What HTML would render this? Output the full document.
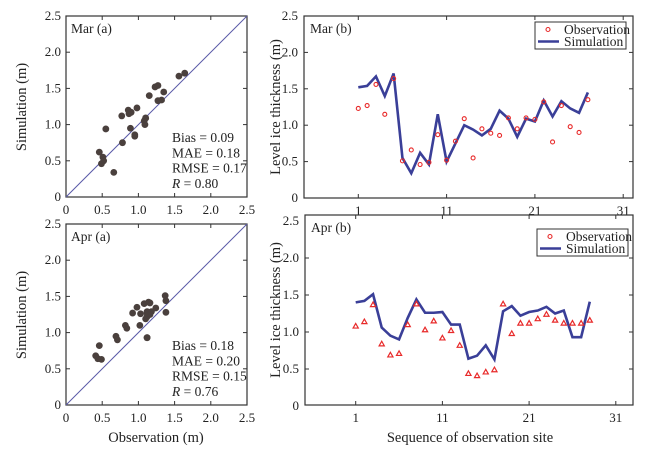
<!DOCTYPE html>
<html><head><meta charset="utf-8"><style>
html,body{margin:0;padding:0;background:#fff;}
svg{display:block;font-family:"Liberation Serif",serif;}
</style></head><body>
<svg id="chart" width="672" height="450" viewBox="0 0 672 450" xmlns="http://www.w3.org/2000/svg"></svg>
<script>
const marObs=[1.23,1.27,1.56,1.15,1.64,0.51,0.66,0.46,0.49,0.87,0.52,0.78,1.09,0.55,0.95,0.89,0.86,1.10,0.95,1.10,1.08,1.32,0.77,1.27,0.98,0.90,1.35];
const marSim=[1.52,1.54,1.67,1.40,1.71,0.55,0.34,0.62,0.46,1.15,0.50,0.75,1.00,0.94,0.86,0.95,1.20,1.09,0.84,1.09,1.05,1.34,1.12,1.33,1.23,1.17,1.45];
const aprObs=[1.08,1.14,1.37,0.84,0.69,0.71,1.10,1.38,1.03,1.15,0.92,1.02,0.82,0.44,0.41,0.46,0.49,1.38,0.98,1.12,1.12,1.18,1.24,1.16,1.12,1.12,1.12,1.16];
const aprSim=[1.40,1.42,1.51,1.06,0.95,0.90,1.19,1.44,1.26,1.26,1.27,1.10,1.10,0.64,0.68,0.82,0.63,1.28,1.35,1.22,1.27,1.29,1.34,1.25,1.29,0.93,0.93,1.41];
const scatterTicks=["0","0.5","1.0","1.5","2.0","2.5"];
const siteTicks=[1,11,21,31];
const marStats=["Bias = 0.09","MAE = 0.18","RMSE = 0.17","R = 0.80"];
const aprStats=["Bias = 0.18","MAE = 0.20","RMSE = 0.15","R = 0.76"];

const NS="http://www.w3.org/2000/svg";
const svg=document.getElementById('chart');
function mk(tag,attrs,parent){const e=document.createElementNS(NS,tag);for(const k in attrs)e.setAttribute(k,attrs[k]);(parent||svg).appendChild(e);return e;}
function txt(s,x,y,attrs,parent){const e=mk('text',Object.assign({x:x,y:y,'font-size':13,fill:'#222'},attrs||{}),parent);e.textContent=s;return e;}

function scatterPanel(name,box,obs,sim,stats,lbl){
  const g=mk('g',{});
  
  
  const sx=v=>box.x0+v*(box.x1-box.x0)/2.5;
  const sy=v=>box.y1-v*(box.y1-box.y0)/2.5;
  const f=mk('rect',{x:box.x0,y:box.y0,width:box.x1-box.x0,height:box.y1-box.y0,fill:'none',stroke:'#333','stroke-width':1.2},g);
  
  const d=mk('line',{x1:sx(0),y1:sy(0),x2:sx(2.5),y2:sy(2.5),stroke:'#5a5aa8','stroke-width':1},g);
  
  scatterTicks.forEach((t,i)=>{const v=i*0.5;
    if(i>0&&i<5){mk('line',{x1:sx(v),y1:box.y1,x2:sx(v),y2:box.y1-4,stroke:'#333'},g);mk('line',{x1:sx(v),y1:box.y0,x2:sx(v),y2:box.y0+4,stroke:'#333'},g);
      mk('line',{x1:box.x0,y1:sy(v),x2:box.x0+4,y2:sy(v),stroke:'#333'},g);mk('line',{x1:box.x1,y1:sy(v),x2:box.x1-4,y2:sy(v),stroke:'#333'},g);}
    const xl=txt(t,sx(v),box.y1+17,{'text-anchor':'middle'},g);
    const yl=txt(t,box.x0-5,sy(v)+4,{'text-anchor':'end'},g);
  });
  obs.forEach((o,i)=>{const c=mk('circle',{cx:sx(o),cy:sy(sim[i]),r:3.4,fill:'#4a403d'},g);
    });
  const l=txt(lbl,box.x0+5,box.y0+17,{'font-size':13.5},g);
  stats.forEach((s,i)=>{let e;const y=box.y1-55+i*15.3;
    if(s.startsWith('R ')){e=txt('',box.x0+106,y,{'font-size':13.5},g);const a=mk('tspan',{'font-style':'italic'},e);a.textContent='R';const b=mk('tspan',{},e);b.textContent=s.slice(1);}
    else e=txt(s,box.x0+106,y,{'font-size':13.5},g);
    });
}

function seriesPanel(name,box,obs,sim,lbl,tri,sx0,sstep,leg){
  const g=mk('g',{});
  
  
  const sx=s=>sx0+(s-1)*sstep;
  const sy=v=>box.zero-v*box.unit;
  const f=mk('rect',{x:box.x0,y:box.y0,width:box.x1-box.x0,height:box.y1-box.y0,fill:'none',stroke:'#333','stroke-width':1.2},g);
  
  scatterTicks.forEach((t,i)=>{const v=i*0.5;
    if(i>0&&i<5){mk('line',{x1:box.x0,y1:sy(v),x2:box.x0+4,y2:sy(v),stroke:'#333'},g);mk('line',{x1:box.x1,y1:sy(v),x2:box.x1-4,y2:sy(v),stroke:'#333'},g);}
    const yl=txt(t,box.x0-6,sy(v)+4,{'text-anchor':'end'},g);});
  siteTicks.forEach(s=>{mk('line',{x1:sx(s),y1:box.y1,x2:sx(s),y2:box.y1-4,stroke:'#333'},g);mk('line',{x1:sx(s),y1:box.y0,x2:sx(s),y2:box.y0+4,stroke:'#333'},g);
    const xl=txt(String(s),sx(s),box.y1+17,{'text-anchor':'middle'},g);});
  const p=mk('polyline',{points:sim.map((v,i)=>sx(i+1)+','+sy(v)).join(' '),fill:'none',stroke:'#3a3f98','stroke-width':2.6,'stroke-linejoin':'miter'},g);
  
  obs.forEach((v,i)=>{const x=sx(i+1),y=sy(v);let m;
    if(tri)m=mk('polygon',{points:`${x},${y-2.6} ${x-2.6},${y+2} ${x+2.6},${y+2}`,fill:'none',stroke:'#e82a2a','stroke-width':1.2},g);
    else m=mk('circle',{cx:x,cy:y,r:2,fill:'none',stroke:'#e82a2a','stroke-width':1.1},g);
    });
  const l=txt(lbl,box.x0+6,box.y0+17,{'font-size':13.5},g);
  const lg=mk('g',{},g);
  mk('rect',{x:leg.x,y:leg.y,width:91,height:27,fill:'#fff',stroke:'#333','stroke-width':1},lg);
  mk('circle',{cx:leg.x+13,cy:leg.y+7.5,r:2,fill:'none',stroke:'#e82a2a','stroke-width':1.1},lg);
  const t1=txt('Observation',leg.x+29,leg.y+12,{'font-size':13.5},lg);
  mk('line',{x1:leg.x+3,y1:leg.y+19.5,x2:leg.x+24,y2:leg.y+19.5,stroke:'#3a3f98','stroke-width':2.6},lg);
  const t2=txt('Simulation',leg.x+29,leg.y+24,{'font-size':13.5},lg);
}

scatterPanel('mar-scatter',{x0:66,x1:247,y0:16,y1:197},marObs,marSim,marStats,'Mar (a)');
scatterPanel('apr-scatter',{x0:66,x1:247,y0:224,y1:405},aprObs,aprSim,aprStats,'Apr (a)');
seriesPanel('mar-series',{x0:304,x1:633,y0:16,y1:198,zero:198,unit:72.8},marObs,marSim,'Mar (b)',false,358.3,8.83,{x:535,y:22});
seriesPanel('apr-series',{x0:305,x1:633,y0:215,y1:405,zero:406,unit:74},aprObs,aprSim,'Apr (b)',true,355.7,8.67,{x:537,y:229});

function axTitle(s,x,y,rot,name){const e=txt(s,x,y,{'text-anchor':'middle','font-size':14.5,transform:rot?`rotate(-90 ${x} ${y})`:''});}
axTitle('Simulation (m)',26,107,true,'y-axis-title-mar-scatter');
axTitle('Simulation (m)',26,315,true,'y-axis-title-apr-scatter');
axTitle('Level ice thickness (m)',280,107,true,'y-axis-title-mar-series');
axTitle('Level ice thickness (m)',280,310,true,'y-axis-title-apr-series');
axTitle('Observation (m)',156,442,false,'x-axis-title-scatter');
axTitle('Sequence of observation site',470,442,false,'x-axis-title-series');
</script>
</body></html>
